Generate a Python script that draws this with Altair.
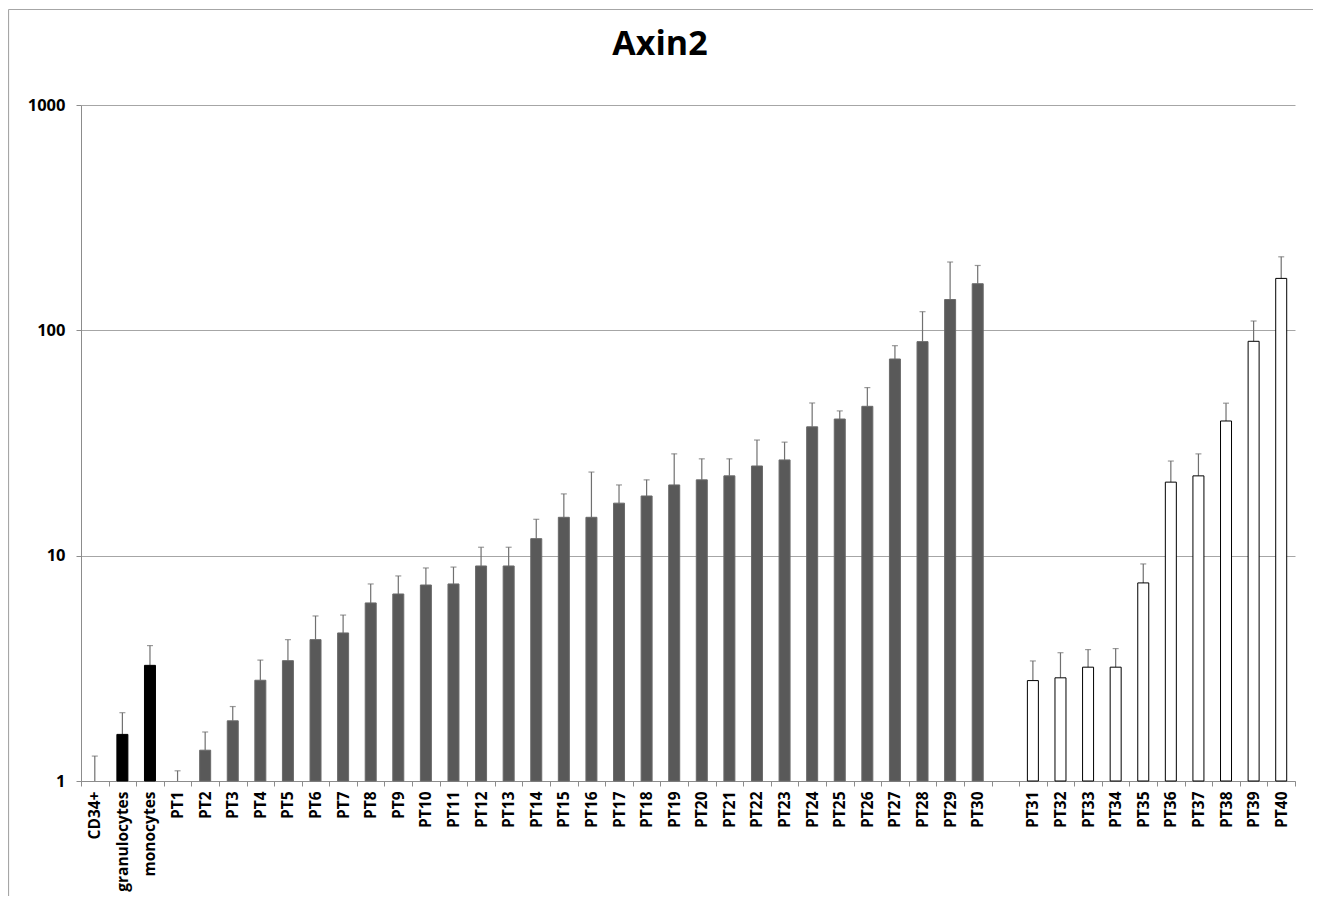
import altair as alt
import pandas as pd

categories = ["CD34+", "granulocytes", "monocytes",
              "PT1", "PT2", "PT3", "PT4", "PT5", "PT6", "PT7", "PT8", "PT9", "PT10",
              "PT11", "PT12", "PT13", "PT14", "PT15", "PT16", "PT17", "PT18", "PT19", "PT20",
              "PT21", "PT22", "PT23", "PT24", "PT25", "PT26", "PT27", "PT28", "PT29", "PT30",
              "PT31", "PT32", "PT33", "PT34", "PT35", "PT36", "PT37", "PT38", "PT39", "PT40"]
means = [1.0, 1.61, 3.26,
         1.0, 1.37, 1.85, 2.80, 3.42, 4.24, 4.54, 6.17, 6.76, 7.41,
         7.49, 9.0, 9.0, 11.9, 14.8, 14.8, 17.1, 18.4, 20.6, 21.7,
         22.6, 25.0, 26.6, 37.3, 40.4, 46.0, 74.6, 89.1, 137, 161,
         2.79, 2.87, 3.20, 3.20, 7.57, 21.2, 22.6, 39.6, 89.4, 170]
upper = [1.29, 2.01, 3.99,
         1.11, 1.65, 2.14, 3.44, 4.24, 5.40, 5.45, 7.49, 8.13, 8.82,
         8.9, 10.9, 10.9, 14.5, 18.8, 23.5, 20.6, 21.7, 28.3, 26.9,
         26.9, 32.6, 31.9, 47.6, 43.9, 55.7, 85.5, 121, 201, 194,
         3.41, 3.71, 3.83, 3.87, 9.19, 26.3, 28.3, 47.5, 110, 212]
groups = ["control"] * 3 + ["PT1-30"] * 30 + ["PT31-40"] * 10
gap_label = " "
y_ticks = [1, 10, 100, 1000]

x_domain = categories[:33] + [gap_label] + categories[33:]

df = pd.DataFrame({"cat": categories, "mean": means, "upper": upper, "group": groups})

FONT = "Open Sans"
x_enc = alt.X("cat:N", sort=x_domain, scale=alt.Scale(domain=x_domain, paddingInner=0, paddingOuter=0),
              axis=alt.Axis(title=None, labelAngle=-90, tickBand="extent", grid=False,
                            domainColor="#8c8c8c", tickColor="#8c8c8c", tickSize=5,
                            labelFont=FONT, labelFontWeight="bold", labelFontSize=15.5,
                            labelColor="black", labelPadding=5))
y_scale = alt.Scale(type="log", domain=[1, 1000])
y_axis = alt.Axis(title=None, values=y_ticks, format="d", grid=True, gridColor="#a6a6a6",
                  domainColor="#8c8c8c", tickColor="#8c8c8c", tickSize=5,
                  labelFont=FONT, labelFontWeight="bold", labelFontSize=16.5,
                  labelColor="black", labelPadding=11)

base = alt.Chart(df)

bars = base.transform_filter("datum.mean > 1").mark_bar(size=11).encode(
    x=x_enc,
    y=alt.Y("mean:Q", scale=y_scale, axis=y_axis),
    y2=alt.datum(1),
    fill=alt.Fill("group:N", scale=alt.Scale(domain=["control", "PT1-30", "PT31-40"],
                                              range=["#000000", "#595959", "#ffffff"]), legend=None),
    stroke=alt.Stroke("group:N", scale=alt.Scale(domain=["control", "PT1-30", "PT31-40"],
                                                  range=["#000000", "#6a6a6a", "#000000"]), legend=None),
    strokeWidth=alt.StrokeWidth("group:N", scale=alt.Scale(domain=["control", "PT1-30", "PT31-40"],
                                                            range=[1, 1, 2]), legend=None),
)

rules = base.mark_rule(color="#707070", strokeWidth=1.2).encode(
    x=alt.X("cat:N", sort=x_domain),
    y=alt.Y("mean:Q"),
    y2="upper:Q",
)

caps = base.mark_tick(color="#707070", size=6, thickness=1.2, orient="horizontal").encode(
    x=alt.X("cat:N", sort=x_domain),
    y=alt.Y("upper:Q"),
)

# outer chart frame (top and left edges, as in the reference)
frame_top = alt.Chart().mark_rule(color="#a6a6a6", strokeWidth=1.2).encode(
    x=alt.value(-72.5), x2=alt.value(1250), y=alt.value(-95.5))
frame_left = alt.Chart().mark_rule(color="#a6a6a6", strokeWidth=1.2).encode(
    x=alt.value(-72.5), y=alt.value(-95.5), y2=alt.value(800))

chart = alt.layer(frame_top, frame_left, rules, bars, caps).properties(
    width=1214, height=676,
    background="white",
    title=alt.TitleParams("Axin2", font="Open Sans", fontSize=34, fontWeight="bold",
                          color="black", anchor="middle", frame="group", offset=-53, dx=-28),
    padding={"left": 73, "top": 97, "right": 18, "bottom": 115},
    autosize=alt.AutoSizeParams(type="none"),
).configure_view(stroke=None, strokeWidth=0)

chart.save("out.html", embed_options={"renderer": "svg", "actions": False})
